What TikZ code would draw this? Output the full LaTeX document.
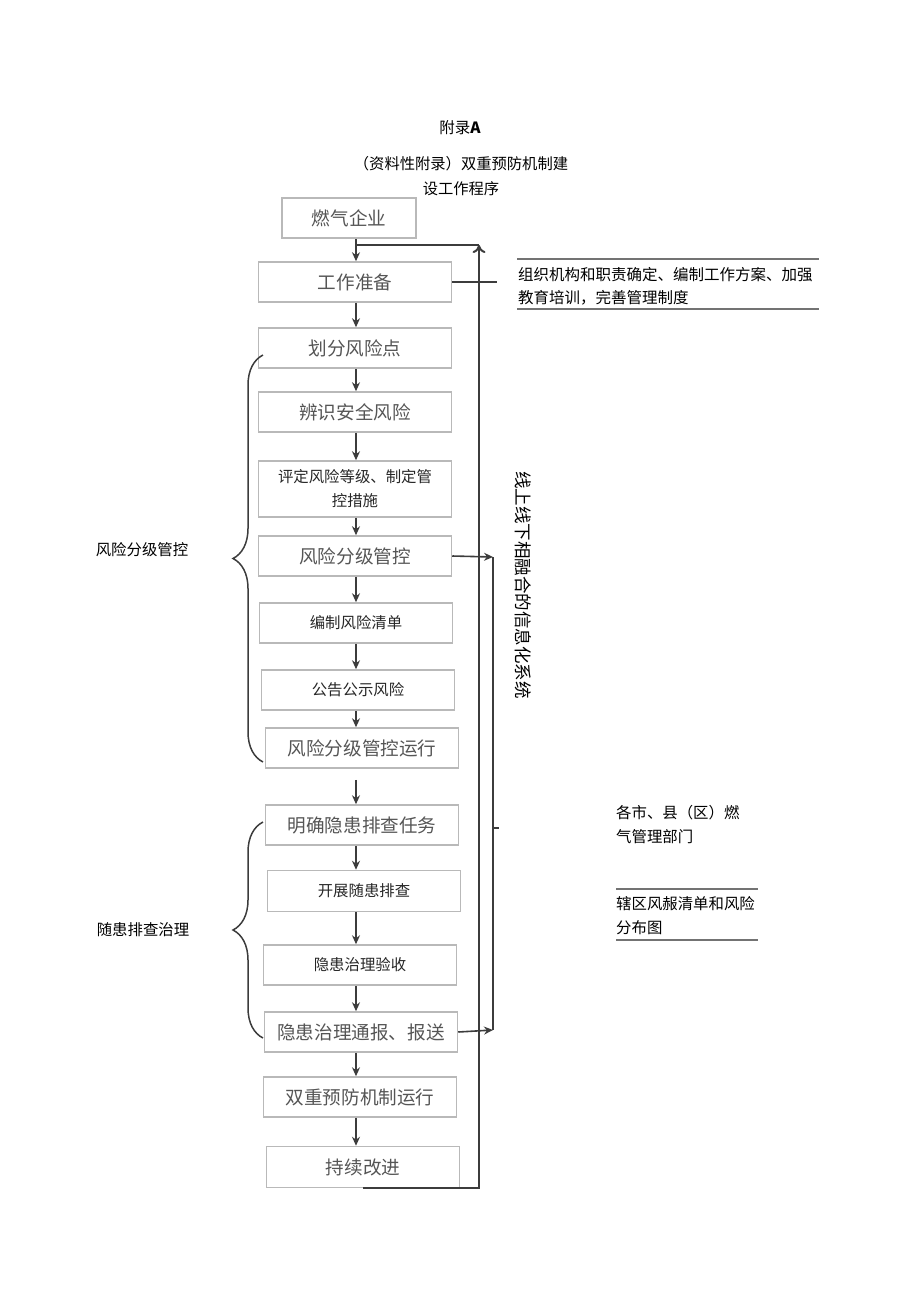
\documentclass[tikz,border=0pt]{standalone}
\usepackage{fontspec}
\newfontfamily\cjk{Noto Sans CJK SC}
\usetikzlibrary{arrows.meta,decorations.pathreplacing}
\definecolor{boxgray}{RGB}{185,185,185}
\definecolor{txtgray}{RGB}{85,85,85}
\definecolor{linegray}{RGB}{60,60,60}
\tikzstyle{bigbox}=[shape=rectangle,draw=boxgray,line width=1.5pt,minimum width=193pt,minimum height=40pt,inner sep=0pt,text=txtgray,font=\cjk\fontsize{18.6}{22}\selectfont]
\tikzstyle{smallbox}=[bigbox,text=black!85,font=\cjk\fontsize{15.4}{24}\selectfont,align=center]
\tikzstyle{flowedge}=[-{Stealth[length=9pt,width=8pt]},line width=1.6pt,draw=linegray]
\tikzstyle{sysline}=[line width=2pt,draw=linegray]
\tikzstyle{rule}=[line width=1.5pt,draw=black!55]
\tikzstyle{grpbrace}=[decorate,decoration={brace,amplitude=30pt},line width=1.5pt,draw=linegray]
\tikzstyle{plainlabel}=[font=\cjk\fontsize{15.4}{24}\selectfont,align=left,inner sep=0pt]

\begin{document}
\begin{tikzpicture}[x=1pt,y=-1pt]
\useasboundingbox (0,0) rectangle (920,1301);

% title
\node (ttl) at (460,128) [font=\cjk\fontsize{15.5}{18}\selectfont] {附录\textbf{A}};
\node (sub) at (461,176) [font=\cjk\fontsize{15.3}{25}\selectfont,align=center] {（资料性附录）双重预防机制建\\设工作程序};

% main column
\node[bigbox,minimum width=134pt] (p1) at (349,218) {燃气企业};
\node[bigbox] (p2) at (355,282) {工作准备};
\node[bigbox] (p3) at (355,348) {划分风险点};
\node[bigbox] (p4) at (355,412) {辨识安全风险};
\node[smallbox,minimum height=56pt] (p5) at (355,489) {评定风险等级、制定管\\控措施};
\node[bigbox] (p6) at (355,556) {风险分级管控};
\node[smallbox] (p7) at (356,623) {编制风险清单};
\node[smallbox] (p8) at (358,690) {公告公示风险};
\node[bigbox] (p9) at (362,748) {风险分级管控运行};
\node[bigbox] (p10) at (362,825) {明确隐患排查任务};
\node[smallbox,minimum height=41pt] (p11) at (364,891) {开展随患排查};
\node[smallbox] (p12) at (360,965) {隐患治理验收};
\node[bigbox] (p13) at (361,1032) {隐患治理通报、报送};
\node[bigbox] (p14) at (360,1097) {双重预防机制运行};
\node[bigbox,minimum height=41pt] (p15) at (363,1167) {持续改进};

% side texts
\node[plainlabel] (grp1) at (142,550) {风险分级管控};
\node[plainlabel] (grp2) at (143,930) {随患排查治理};
\node[plainlabel,anchor=west,font=\cjk\fontsize{15.5}{23}\selectfont] (duty) at (518,286) {组织机构和职责确定、编制工作方案、加强\\教育培训，完善管理制度};
\node[plainlabel,anchor=west] (dept) at (616,825) {各市、县（区）燃\\气管理部门};
\node[plainlabel,anchor=west] (map) at (616,916) {辖区风赧清单和风险\\分布图};
\node (sys) at (523,585) [rotate=-90,inner sep=0pt,font=\cjk\fontsize{17.5}{20}\selectfont] {线上线下相融合的信息化系统};

\draw[rule] (517,259) -- (819,259);
\draw[rule] (517,309) -- (819,309);
\draw[rule] (616,889) -- (758,889);
\draw[rule] (616,940) -- (758,940);

% braces
\draw[grpbrace] (263,762) -- (263,355);
\draw[grpbrace] (263,1038) -- (263,822);

\coordinate (axis) at (356,0);
\coordinate (fbtop) at (479,245);
\coordinate (fbjoin) at (355,245);
\coordinate (sysin) at (493,557);
\coordinate (sysout) at (493,1030);
\coordinate (dutyend) at (497,282);
\coordinate (deptstub) at (499,828);

\path
(p1.south -| axis) edge [flowedge] (p2.north -| axis)
(p2.south -| axis) edge [flowedge] (p3.north -| axis)
(p3.south -| axis) edge [flowedge] (p4.north -| axis)
(p4.south -| axis) edge [flowedge] (p5.north -| axis)
(p5.south -| axis) edge [flowedge] (p6.north -| axis)
(p6.south -| axis) edge [flowedge] (p7.north -| axis)
(p7.south -| axis) edge [flowedge] (p8.north -| axis)
(p8.south -| axis) edge [flowedge] (p9.north -| axis)
(p9.south -| axis) edge [flowedge,shorten <=11pt] (p10.north -| axis)
(p10.south -| axis) edge [flowedge] (p11.north -| axis)
(p11.south -| axis) edge [flowedge] (p12.north -| axis)
(p12.south -| axis) edge [flowedge] (p13.north -| axis)
(p13.south -| axis) edge [flowedge] (p14.north -| axis)
(p14.south -| axis) edge [flowedge] (p15.north -| axis)

(p6.east) edge [flowedge] (sysin)
(p13.east) edge [flowedge] (sysout)
;

% feedback and system lines
\draw[sysline,-{To[length=8pt,width=13pt]}] (p15.south) -| (fbtop);
\draw[sysline] (fbjoin) -- (fbtop);
\draw[sysline] (p2.east) -- (dutyend);
\draw[sysline] (sysin) -- (sysout);
\draw[sysline] (sysin |- deptstub) -- (deptstub);

\end{tikzpicture}
\end{document}
